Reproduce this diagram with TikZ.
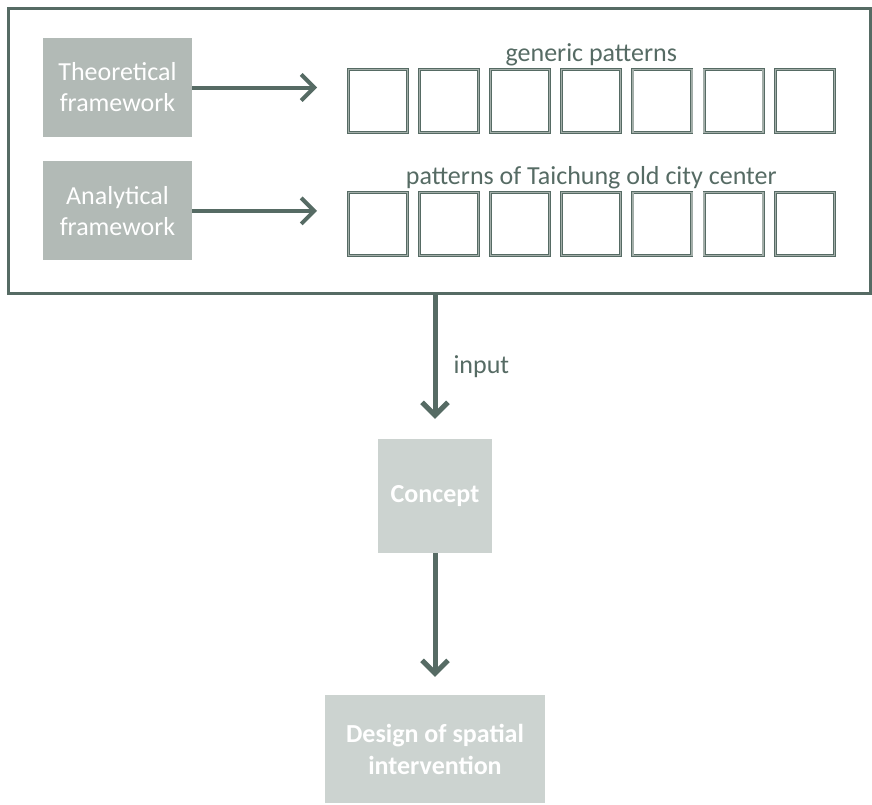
\documentclass[tikz,border=0pt]{standalone}
\usepackage{fontspec}
\setmainfont{Carlito}
\usepackage{tikz}
\usetikzlibrary{arrows.meta,positioning}
\definecolor{DeepSage}{HTML}{566B64}
\definecolor{MidSage}{HTML}{B2BAB6}
\definecolor{PaleSage}{HTML}{CCD3D0}
\definecolor{EdgeSage}{HTML}{A3AEA9}

\begin{document}
\begin{tikzpicture}[
x=1pt,y=1pt,
node distance=24pt and 20pt,
box/.style={fill=MidSage,text=white,align=center,inner sep=0pt,minimum width=149pt,minimum height=99pt,font=\fontsize{26}{31}\selectfont},
pale/.style={fill=PaleSage,text=white,align=center,inner sep=0pt,font=\fontsize{26}{32}\selectfont\bfseries},
tile/.style={draw=DeepSage,double=EdgeSage,double distance=1.2pt,line width=0.9pt,inner sep=0pt,minimum width=59pt,minimum height=63pt},
lbl/.style={text=DeepSage,inner sep=0pt,font=\fontsize{26}{31}\selectfont},
arr/.style={-{Straight Barb[length=13pt,width=26pt]},line width=4pt,DeepSage}
]
\useasboundingbox (0,0) rectangle (872,-804);
% outer frame around the pattern study
\node[draw=DeepSage,line width=3pt,minimum width=862pt,minimum height=285pt,inner sep=0pt] (frame) at (439,-150.5) {};
\node[box] (theo) at (117.5,-87.5) {Theoretical\\framework};
\node[box,below=of theo] (anal) {Analytical\\framework};
% two rows of pattern tiles
\foreach \i in {0,...,6} {
  \node[tile] (g\i) at (378+71.1*\i,-101) {};
  \node[tile] (t\i) at (378+71.1*\i,-224) {};
}
\node[lbl,anchor=base] (gtitle) at ([yshift=8pt]g3.north) {generic patterns};
\node[lbl,anchor=base] (ttitle) at ([yshift=8pt]t3.north) {patterns of Taichung old city center};
\draw[arr] (theo.east) -- (theo.east -| g0.west) [shorten >=31pt];
\draw[arr] (anal.east) -- (anal.east -| t0.west) [shorten >=31pt];
% design chain below the frame
\node[pale,minimum width=114pt,minimum height=114pt] (concept) at (435,-496) {Concept};
\node[pale,minimum width=220pt,minimum height=108pt] (design) at (435,-749) {Design of spatial\\intervention};
\draw[arr,line width=5pt,shorten >=20pt] (frame.south -| concept) -- (concept.north)
  node[lbl,pos=0.5,right=16pt] {input};
\draw[arr,line width=5pt,shorten >=18pt] (concept.south) -- (design.north);
\end{tikzpicture}
\end{document}
